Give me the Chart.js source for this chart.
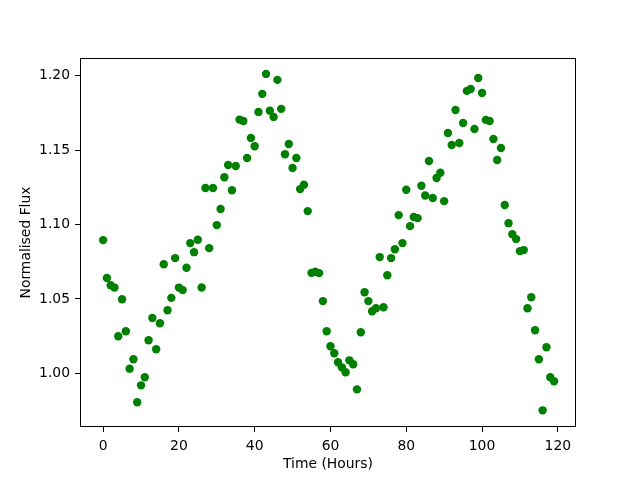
<!DOCTYPE html>
<html>
<head>
<meta charset="utf-8">
<script src="https://cdn.jsdelivr.net/npm/chart.js@4/dist/chart.umd.min.js"></script>
<style>
  html, body { margin: 0; padding: 0; background: #fff; }
  #wrap { width: 640px; height: 480px; }
</style>
</head>
<body>
<div id="wrap"><canvas id="c" width="640" height="480"></canvas></div>
<script>
const timeHours = [
  0,1,2,3,4,5,6,7,8,9,10,11,12,13,14,15,16,17,18,19,
  20,21,22,23,24,25,26,27,28,29,30,31,32,33,34,35,36,37,38,39,
  40,41,42,43,44,45,46,47,48,49,50,51,52,53,54,55,56,57,58,59,
  60,61,62,63,64,65,66,67,68,69,70,71,72,73,74,75,76,77,78,79,
  80,81,82,83,84,85,86,87,88,89,90,91,92,93,94,95,96,97,98,99,
  100,101,102,103,104,105,106,107,108,109,110,111,112,113,114,115,116,117,118,119
];
const normalisedFlux = [
  1.0895,1.0641,1.0592,1.0576,1.0249,1.0498,1.0283,1.0031,1.0094,0.9805,
  0.9919,0.9973,1.0222,1.0372,1.0162,1.0336,1.0733,1.0424,1.0507,1.0774,
  1.0576,1.0559,1.0709,1.0875,1.0814,1.0897,1.0577,1.1245,1.0841,1.1245,
  1.0996,1.1104,1.1318,1.1400,1.1230,1.1393,1.1705,1.1696,1.1447,1.1581,
  1.1526,1.1756,1.1878,1.2012,1.1765,1.1723,1.1972,1.1777,1.1472,1.1541,
  1.1380,1.1447,1.1238,1.1267,1.1090,1.0675,1.0682,1.0673,1.0485,1.0283,
  1.0182,1.0135,1.0074,1.0040,1.0007,1.0087,1.0061,0.9892,1.0276,1.0545,
  1.0485,1.0417,1.0437,1.0781,1.0444,1.0659,1.0774,1.0834,1.1063,1.0875,
  1.1234,1.0989,1.1050,1.1043,1.1260,1.1195,1.1427,1.1178,1.1312,1.1348,
  1.1157,1.1615,1.1534,1.1770,1.1548,1.1682,1.1898,1.1911,1.1642,1.1985,
  1.1884,1.1703,1.1696,1.1575,1.1433,1.1514,1.1131,1.1009,1.0935,1.0902,
  1.0821,1.0828,1.0437,1.0511,1.0289,1.0094,0.9751,1.0175,0.9973,0.9946
];
const xTickValues = [0, 20, 40, 60, 80, 100, 120];
const yTickValues = [1.00, 1.05, 1.10, 1.15, 1.20];
const xLabel = 'Time (Hours)';
const yLabel = 'Normalised Flux';

const points = timeHours.map((t, i) => ({ x: t, y: normalisedFlux[i] }));

const FONT = { family: 'DejaVu Sans', size: 13.9 };

const frame = {
  id: 'frame',
  afterDraw(chart) {
    const a = chart.chartArea, ctx = chart.ctx;
    ctx.save();
    ctx.strokeStyle = '#000';
    ctx.lineWidth = 1;
    ctx.strokeRect(Math.round(a.left) + 0.5, Math.round(a.top) + 0.5,
                   Math.round(a.right - a.left) - 1, Math.round(a.bottom - a.top) - 1);
    ctx.restore();
  }
};

new Chart(document.getElementById('c'), {
  type: 'scatter',
  data: {
    datasets: [{
      data: points,
      backgroundColor: '#008000',
      borderWidth: 0,
      pointRadius: 4.2,
      pointHoverRadius: 4.2
    }]
  },
  options: {
    responsive: false,
    animation: false,
    events: [],
    layout: { padding: { left: 0, top: 58, right: 64, bottom: 0 } },
    plugins: { legend: { display: false }, tooltip: { enabled: false } },
    scales: {
      x: {
        type: 'linear',
        min: -6.1, max: 124.8,
        afterBuildTicks(s) { s.ticks = xTickValues.map(v => ({ value: v })); },
        afterFit(s) { s.height = 53; },
        grid: { display: true, drawOnChartArea: false, drawTicks: true, tickLength: 5, color: '#000' },
        border: { display: false },
        ticks: { color: '#000', font: FONT, padding: 6, maxRotation: 0, callback: v => String(v) },
        title: { display: true, text: xLabel, color: '#000', font: FONT, padding: { top: 0, bottom: 7 } }
      },
      y: {
        type: 'linear',
        min: 0.9639, max: 1.2119,
        afterBuildTicks(s) { s.ticks = yTickValues.map(v => ({ value: v })); },
        afterFit(s) { s.width = 80; },
        grid: { display: true, drawOnChartArea: false, drawTicks: true, tickLength: 5, color: '#000' },
        border: { display: false },
        ticks: { color: '#000', font: FONT, padding: 5, callback: v => Number(v).toFixed(2) },
        title: { display: true, text: yLabel, color: '#000', font: FONT, padding: { top: 18, bottom: 0 } }
      }
    }
  },
  plugins: [frame]
});
</script>
</body>
</html>
